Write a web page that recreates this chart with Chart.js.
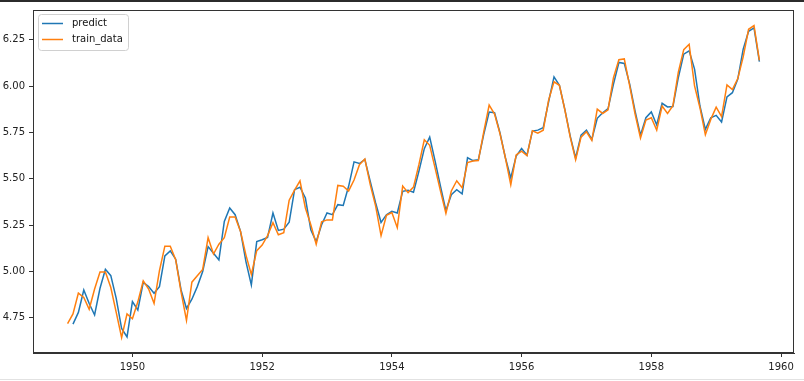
<!DOCTYPE html>
<html>
<head>
<meta charset="utf-8">
<script src="https://cdn.jsdelivr.net/npm/chart.js@4.4.1/dist/chart.umd.min.js"></script>
<style>
  html, body { margin: 0; padding: 0; background: #fff; }
  #wrap { position: relative; width: 804px; height: 381px; overflow: hidden; background: #fff; }
  #topbar { position: absolute; left: 0; top: 0; width: 804px; height: 2px; background: #2b2b2b; }
  #botline { position: absolute; left: 0; top: 379px; width: 804px; height: 1px; background: #e2e2e2; }
  canvas { position: absolute; left: 0; top: 0; }
</style>
</head>
<body>
<div id="wrap">
  <canvas id="c" width="804" height="381"></canvas>
  <div id="topbar"></div>
  <div id="botline"></div>
</div>
<script>
// ---- data ----
const trainStartYear = 1949;   // first train point: Jan 1949
const predictStartYear = 1949; // first predict point: Feb 1949
const predictStartMonth = 1;

const trainData = [
  4.718,4.771,4.883,4.860,4.796,4.905,4.997,4.997,4.913,4.779,4.644,4.771,
  4.745,4.836,4.949,4.905,4.828,5.004,5.136,5.136,5.063,4.890,4.736,4.942,
  4.977,5.011,5.182,5.094,5.147,5.182,5.293,5.293,5.215,5.088,4.984,5.112,
  5.142,5.193,5.263,5.198,5.209,5.384,5.438,5.489,5.342,5.252,5.147,5.268,
  5.278,5.278,5.464,5.460,5.434,5.493,5.576,5.606,5.468,5.352,5.193,5.303,
  5.318,5.236,5.460,5.425,5.455,5.576,5.710,5.680,5.557,5.434,5.313,5.434,
  5.489,5.451,5.587,5.595,5.598,5.753,5.897,5.849,5.743,5.613,5.468,5.628,
  5.649,5.624,5.759,5.746,5.762,5.924,6.023,6.004,5.872,5.724,5.602,5.724,
  5.753,5.707,5.875,5.852,5.872,6.045,6.142,6.146,6.001,5.849,5.720,5.817,
  5.829,5.762,5.892,5.852,5.894,6.075,6.196,6.225,6.001,5.883,5.737,5.820,
  5.886,5.835,6.006,5.981,6.040,6.157,6.306,6.326,6.138
];

const predictData = [
  4.716,4.779,4.900,4.827,4.765,4.909,5.011,4.977,4.855,4.692,4.647,
  4.837,4.792,4.941,4.918,4.882,4.918,5.084,5.111,5.066,4.900,4.800,4.850,
  4.918,4.999,5.134,5.098,5.062,5.270,5.342,5.306,5.216,5.053,4.927,5.161,
  5.171,5.183,5.315,5.221,5.228,5.266,5.441,5.454,5.396,5.225,5.161,5.252,
  5.315,5.306,5.360,5.356,5.459,5.591,5.582,5.604,5.486,5.369,5.264,5.306,
  5.324,5.315,5.432,5.438,5.427,5.540,5.662,5.725,5.595,5.459,5.328,5.414,
  5.441,5.418,5.613,5.598,5.602,5.739,5.860,5.856,5.748,5.613,5.504,5.622,
  5.663,5.627,5.757,5.762,5.775,5.915,6.049,6.004,5.874,5.730,5.612,5.735,
  5.762,5.712,5.826,5.856,5.878,6.010,6.127,6.122,6.010,5.865,5.735,5.829,
  5.860,5.790,5.907,5.887,5.889,6.046,6.172,6.190,6.091,5.892,5.766,5.829,
  5.842,5.806,5.941,5.964,6.037,6.199,6.295,6.313,6.131
];

const xTickLabels = [1950, 1952, 1954, 1956, 1958, 1960];
const yTickLabels = [4.75, 5.00, 5.25, 5.50, 5.75, 6.00, 6.25];

// ---- build points (month -> decimal year) ----
const trainPts = trainData.map((v, i) => ({ x: trainStartYear + i / 12, y: v }));
const predictPts = predictData.map((v, i) => ({ x: predictStartYear + (predictStartMonth + i) / 12, y: v }));

const FONT = 'DejaVu Sans';

const frameAndLegend = {
  id: 'frameAndLegend',
  afterDatasetsDraw(chart) {
    const { ctx, chartArea: a } = chart;
    ctx.save();
    ctx.strokeStyle = '#333';
    ctx.lineWidth = 1;
    ctx.strokeRect(Math.round(a.left) + 0.5, Math.round(a.top) + 0.5,
                   Math.round(a.right - a.left) - 1, Math.round(a.bottom - a.top) - 1);
    // legend box (upper left, inside axes)
    const bx = 38.5, by = 14.5, bw = 90, bh = 36, r = 3;
    ctx.beginPath();
    ctx.moveTo(bx + r, by);
    ctx.lineTo(bx + bw - r, by); ctx.quadraticCurveTo(bx + bw, by, bx + bw, by + r);
    ctx.lineTo(bx + bw, by + bh - r); ctx.quadraticCurveTo(bx + bw, by + bh, bx + bw - r, by + bh);
    ctx.lineTo(bx + r, by + bh); ctx.quadraticCurveTo(bx, by + bh, bx, by + bh - r);
    ctx.lineTo(bx, by + r); ctx.quadraticCurveTo(bx, by, bx + r, by);
    ctx.closePath();
    ctx.fillStyle = 'rgba(255,255,255,0.85)';
    ctx.fill();
    ctx.strokeStyle = '#d0d0d0';
    ctx.stroke();
    const items = chart.data.datasets;
    ctx.font = '10px ' + FONT;
    ctx.textBaseline = 'middle';
    items.forEach((ds, i) => {
      const yy = 23.5 + i * 16;
      ctx.strokeStyle = ds.borderColor;
      ctx.lineWidth = 1.5;
      ctx.beginPath(); ctx.moveTo(42, yy); ctx.lineTo(63, yy); ctx.stroke();
      ctx.fillStyle = '#111';
      ctx.fillText(ds.label, 72, yy);
    });
    ctx.restore();
  }
};

new Chart(document.getElementById('c'), {
  type: 'line',
  data: {
    datasets: [
      { label: 'predict', data: predictPts, borderColor: '#1f77b4', backgroundColor: '#1f77b4',
        borderWidth: 1.5, pointRadius: 0, tension: 0, order: 1 },
      { label: 'train_data', data: trainPts, borderColor: '#ff7f0e', backgroundColor: '#ff7f0e',
        borderWidth: 1.5, pointRadius: 0, tension: 0, order: 0 }
    ]
  },
  options: {
    responsive: false,
    animation: false,
    events: [],
    layout: { padding: { top: 9, right: 10, left: 0, bottom: 0 } },
    plugins: { legend: { display: false }, tooltip: { enabled: false } },
    scales: {
      x: {
        type: 'linear',
        min: 1948.467,
        max: 1960.2,
        afterBuildTicks: s => { s.ticks = xTickLabels.map(v => ({ value: v })); },
        afterFit: s => { s.height = 28; },
        ticks: { callback: v => String(v), font: { family: FONT, size: 10 }, color: '#222', padding: 4, maxRotation: 0, autoSkip: false },
        grid: { display: true, drawOnChartArea: false, drawTicks: true, tickLength: 4, color: '#333' },
        border: { display: true, color: '#333' }
      },
      y: {
        type: 'linear',
        min: 4.56,
        max: 6.41,
        afterBuildTicks: s => { s.ticks = yTickLabels.map(v => ({ value: v })); },
        afterFit: s => { s.width = 33; },
        ticks: { callback: v => Number(v).toFixed(2), font: { family: FONT, size: 10 }, color: '#222', padding: 4, autoSkip: false },
        grid: { display: true, drawOnChartArea: false, drawTicks: true, tickLength: 4, color: '#333' },
        border: { display: true, color: '#333' }
      }
    }
  },
  plugins: [frameAndLegend]
});
</script>
</body>
</html>
